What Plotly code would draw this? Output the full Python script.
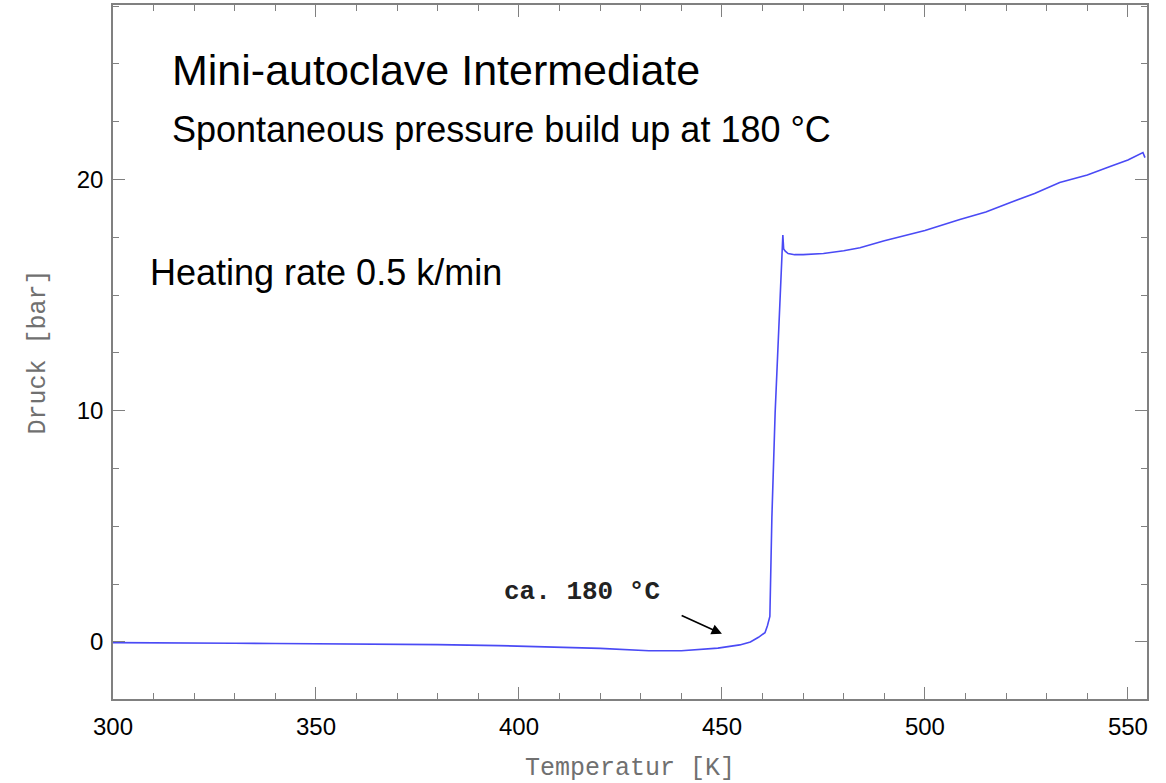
import plotly.graph_objects as go

# Temperature [K] and pressure [bar]
temperature = [300, 310, 320, 330, 340, 350, 358, 370, 380, 395, 410, 420, 432, 440, 449, 454.4, 457,
               459, 460.6, 461.2, 461.8, 462.3, 463.1, 463.7, 464.3, 464.7, 465.0, 465.2, 465.6, 466.3,
               467.9, 470, 475, 480, 484, 490, 500, 508.6, 515, 520.9, 527, 533.2, 540, 545.6, 550,
               553.7, 554.2]
pressure = [-0.03, -0.03, -0.05, -0.06, -0.07, -0.08, -0.09, -0.11, -0.12, -0.16, -0.22, -0.28, -0.38,
            -0.38, -0.27, -0.13, 0.0, 0.2, 0.4, 0.7, 1.1, 5.4, 9.9, 12.5, 14.8, 16.4, 17.6, 17.0, 16.9,
            16.8, 16.75, 16.75, 16.8, 16.92, 17.05, 17.35, 17.8, 18.27, 18.6, 19.0, 19.4, 19.87, 20.2,
            20.56, 20.85, 21.17, 20.95]

x_range = [300, 554.7]
y_range = [-2.47, 27.55]
x_label = "Temperatur [K]"
y_label = "Druck [bar]"
title_1 = "Mini-autoclave Intermediate"
title_2 = "Spontaneous pressure build up at 180 °C"
title_3 = "Heating rate 0.5 k/min"
note = "ca. 180 °C"

fig = go.Figure()
fig.add_trace(go.Scatter(x=temperature, y=pressure, mode="lines",
                         line=dict(color="#4a4af5", width=1.6), showlegend=False))

narrow = "Liberation Sans Narrow, Arial Narrow, Liberation Sans, sans-serif"
mono = "Liberation Mono, Courier New, monospace"
fig.add_annotation(x=314.0, y=24.76, text=title_1, showarrow=False, xanchor="left", yanchor="middle",
                   font=dict(family=narrow, size=43, color="black"))
fig.add_annotation(x=314.0, y=22.16, text=title_2, showarrow=False, xanchor="left", yanchor="middle",
                   font=dict(family=narrow, size=36, color="black"))
fig.add_annotation(x=308.6, y=16.0, text=title_3, showarrow=False, xanchor="left", yanchor="middle",
                   font=dict(family=narrow, size=36, color="black"))
fig.add_annotation(x=395.8, y=2.16, text="<b>" + note + "</b>", showarrow=False, xanchor="left",
                   yanchor="middle", font=dict(family=mono, size=26, color="#222"))
fig.add_annotation(x=450.0, y=0.35, ax=439.7, ay=1.17, xref="x", yref="y", axref="x", ayref="y",
                   text="", showarrow=True, arrowhead=2, arrowsize=1.3, arrowwidth=1.6, arrowcolor="black")

axis_common = dict(showgrid=False, zeroline=False, showline=True, linecolor="#808080", linewidth=1.5,
                   mirror="ticks", ticks="inside", tickcolor="#808080", ticklen=12, tickwidth=1.3,
                   tickfont=dict(family="Liberation Sans, Arial, sans-serif", size=24, color="black"),
                   minor=dict(ticks="inside", ticklen=6, tickcolor="#808080", tickwidth=1.3))

fig.update_xaxes(range=x_range, tick0=300, dtick=50, minor_dtick=10, ticklabelstandoff=5,
                 title=dict(text=x_label, standoff=21, font=dict(family=mono, size=25, color="#707070")),
                 **axis_common)
fig.update_yaxes(range=y_range, tick0=0, dtick=10, minor_dtick=2.5, ticklabelstandoff=3,
                 title=dict(text=y_label, standoff=24, font=dict(family=mono, size=25, color="#707070")),
                 **axis_common)

fig.update_layout(width=1166, height=783, plot_bgcolor="white", paper_bgcolor="white",
                  margin=dict(l=113, r=19, t=5, b=84, autoexpand=False))

fig.write_html("out.html", config={"displayModeBar": False},
               post_script="document.body.style.margin='0';")
